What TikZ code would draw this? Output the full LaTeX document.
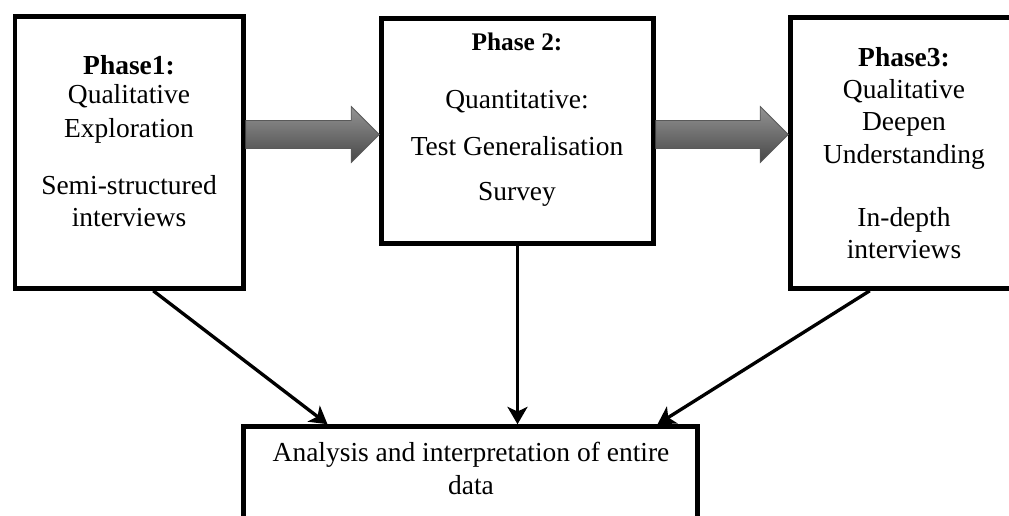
\documentclass[tikz,border=0pt]{standalone}
\usepackage{fontspec}
\setmainfont{Liberation Serif}
\usetikzlibrary{arrows.meta,calc}
\begin{document}
\begin{tikzpicture}[x=0.75pt,y=-0.75pt,
  box/.style={draw, line width=3.4pt, inner sep=0pt, rectangle},
  conn/.style={line width=2.5pt, -{Stealth[length=13pt,width=15pt,inset=3.5pt]}},
  txt/.style={anchor=base, inner sep=0pt, font=\fontsize{20.6}{24}\selectfont},
  ph/.style={anchor=base, inner sep=0pt, font=\fontsize{20.6}{24}\selectfont\bfseries},
  phsmall/.style={anchor=base, inner sep=0pt, font=\fontsize{19}{23}\selectfont\bfseries},
  blk/.style={draw=black!65, line width=0.6pt, top color=black!42, middle color=black!36, bottom color=black!72}
]
\useasboundingbox (0,0) rectangle (1009,515);
\clip (0,0) rectangle (1009,515);

% boxes
\node[box, minimum width=171.4pt, minimum height=204pt] (b1) at (129.25,152.5) {};
\node[box, minimum width=204pt, minimum height=168.75pt] (b2) at (517.5,131) {};
\node[box, minimum width=169.9pt, minimum height=203.25pt] (b3) at (903.75,153) {};
\node[box, minimum width=340.5pt, minimum height=88.9pt] (bot) at (470.5,485.75) {};

% box 1 text
\node[ph]  (t11) at (129,74)    {Phase1:};
\node[txt] (t12) at (129,103.3) {Qualitative};
\node[txt] (t13) at (129,137.7) {Exploration};
\node[txt] (t14) at (129,194)   {Semi-structured};
\node[txt] (t15) at (129,226.7) {interviews};

% box 2 text
\node[phsmall] (t21) at (517,50.7) {Phase 2:};
\node[txt] (t22) at (517,108.3) {Quantitative:};
\node[txt] (t23) at (517,155)   {Test Generalisation};
\node[txt] (t24) at (517,200)   {Survey};

% box 3 text
\node[ph]  (t31) at (904,66)    {Phase3:};
\node[txt] (t32) at (904,98.3)  {Qualitative};
\node[txt] (t33) at (904,130)   {Deepen};
\node[txt] (t34) at (904,163.3) {Understanding};
\node[txt] (t35) at (904,226.7) {In-depth};
\node[txt] (t36) at (904,258.3) {interviews};

% bottom text
\node[txt] (t41) at (471,461.7) {Analysis and interpretation of entire};
\node[txt] (t42) at (471,494)   {data};

% block arrows
\coordinate (ya) at (0,134.5);
\path[blk] let \p1=(b1.east |- ya), \p2=(b2.west |- ya) in
  (\x1,\y1+10.5pt) -- (\x2-21pt,\y1+10.5pt) -- (\x2-21pt,\y1+21pt) -- (\x2,\y1)
  -- (\x2-21pt,\y1-21pt) -- (\x2-21pt,\y1-10.5pt) -- (\x1,\y1-10.5pt) -- cycle;
\path[blk] let \p1=(b2.east |- ya), \p2=(b3.west |- ya) in
  (\x1,\y1+10.5pt) -- (\x2-21pt,\y1+10.5pt) -- (\x2-21pt,\y1+21pt) -- (\x2,\y1)
  -- (\x2-21pt,\y1-21pt) -- (\x2-21pt,\y1-10.5pt) -- (\x1,\y1-10.5pt) -- cycle;

% connectors
\draw[conn] ($(b1.south)+(24,0)$) -- ($(bot.north)+(-143,0)$);
\draw[conn] (b2.south) -- (b2.south |- bot.north);
\draw[conn] ($(b3.south)+(-34,0)$) -- ($(bot.north)+(187,0)$);
\end{tikzpicture}
\end{document}
